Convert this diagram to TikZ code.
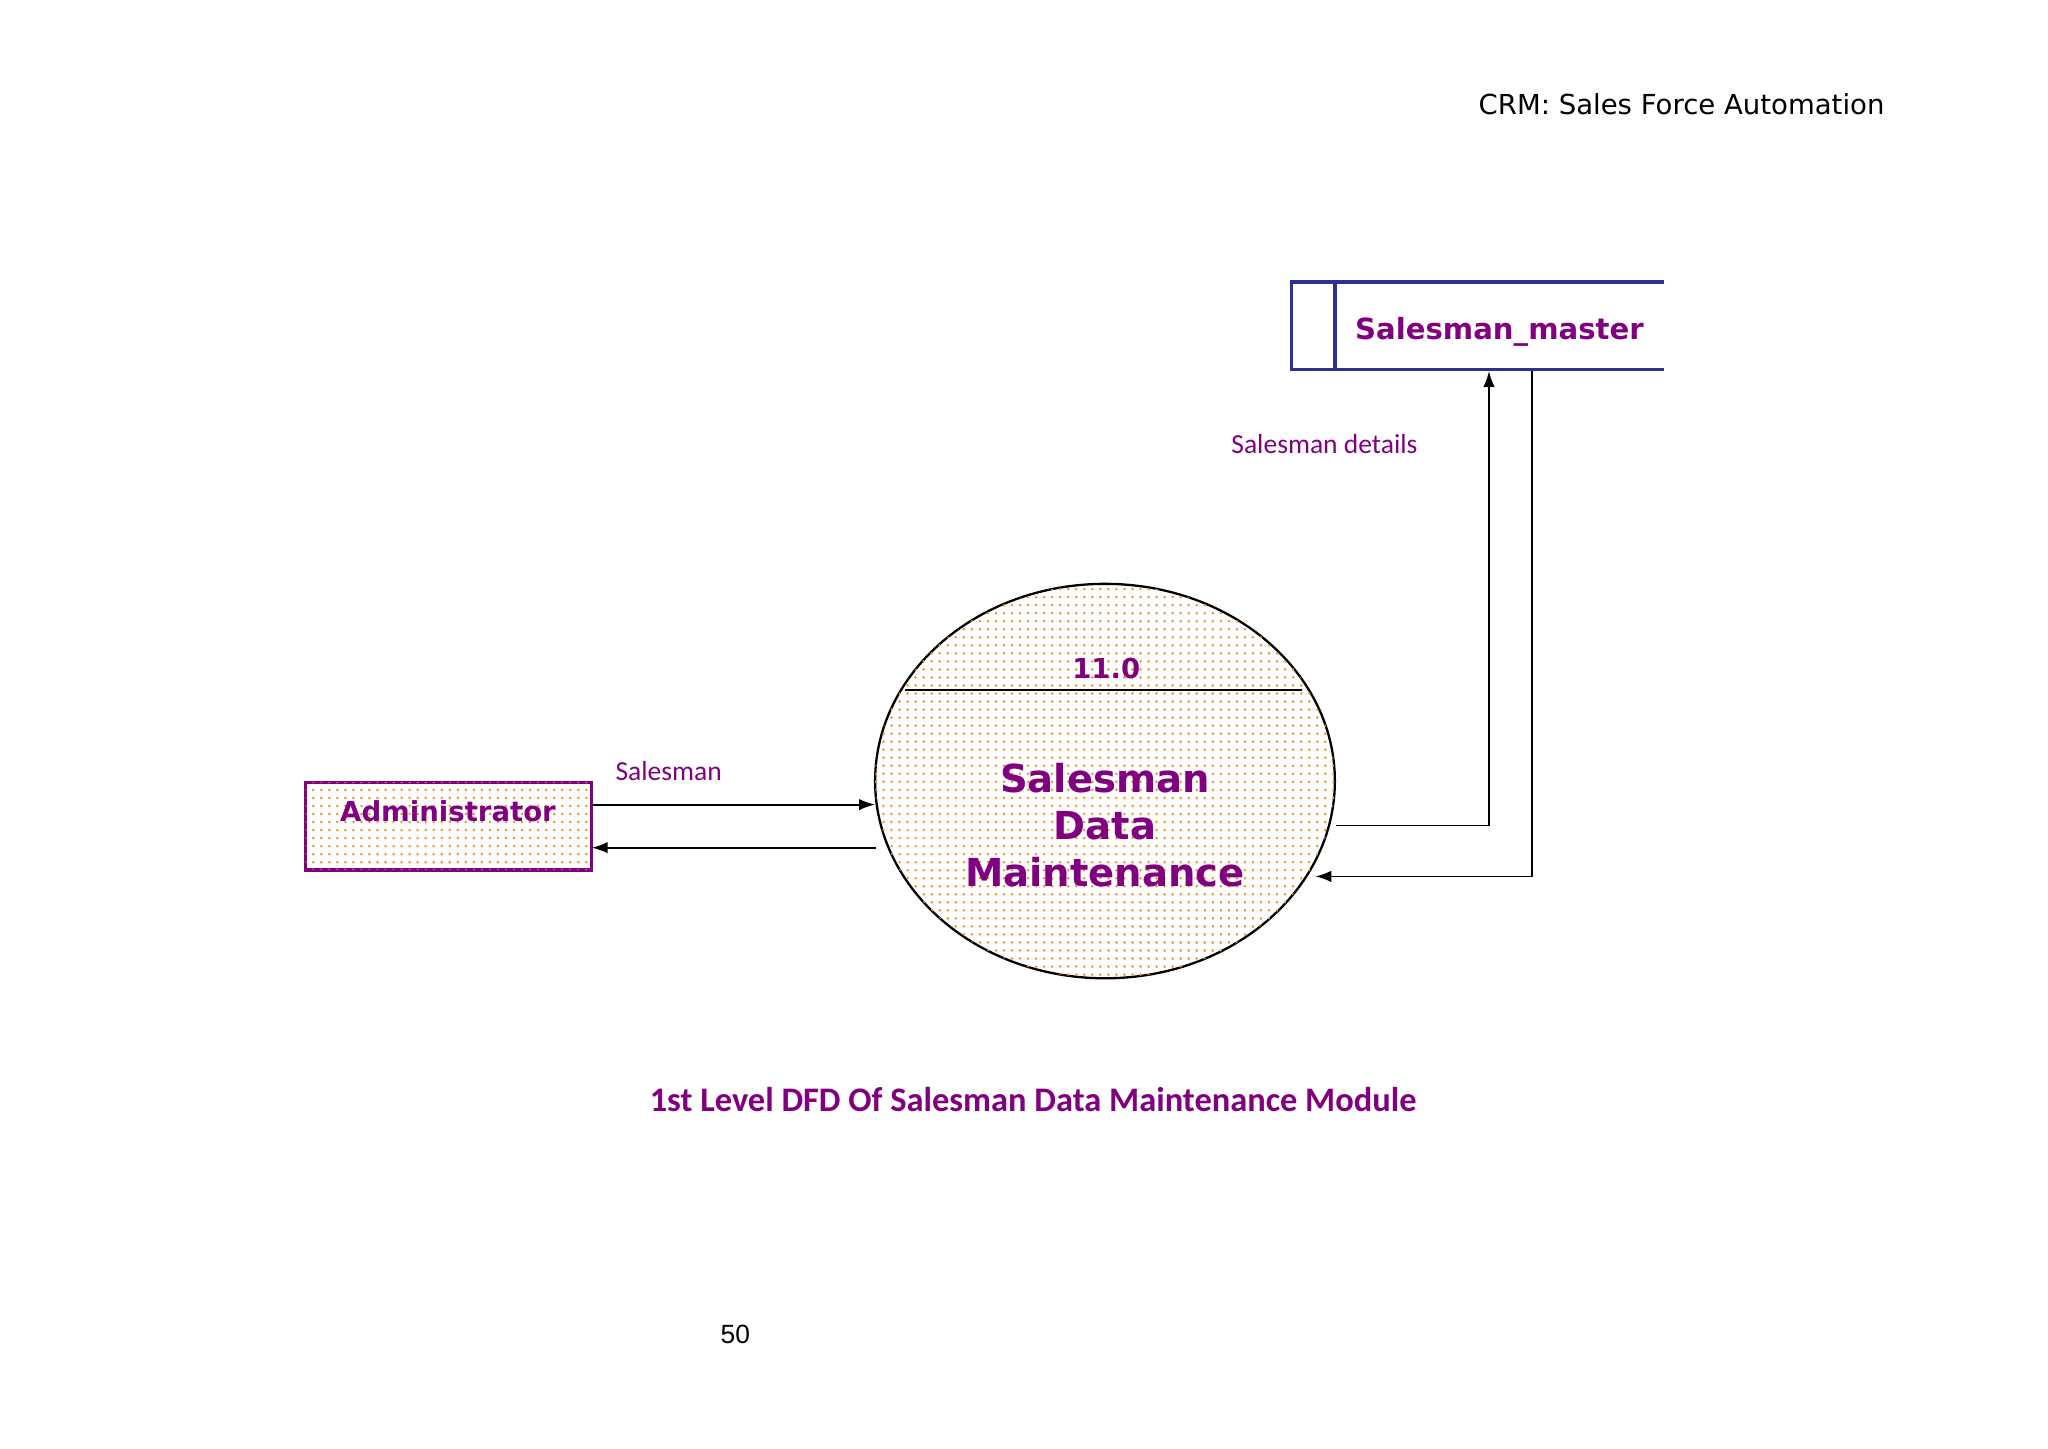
\documentclass[tikz,border=0pt]{standalone}
\usepackage{fontspec}
\setmainfont{DejaVu Sans}
\newfontfamily\carlitof{Carlito}
\newfontfamily\arsf{Liberation Sans}
\usetikzlibrary{patterns,patterns.meta,arrows.meta}
\definecolor{pur}{HTML}{800080}
\definecolor{navy}{HTML}{2E3192}
\definecolor{dotor}{HTML}{F09020}
\begin{document}
\begin{tikzpicture}[x=0.02cm,y=-0.02cm,
  flow/.style={-{Latex[length=7pt,width=5pt]},line width=0.8pt},
  dotted fill/.style={fill=white,postaction={pattern={Dots[distance=3.5pt,radius=0.6pt]},pattern color=dotor}}]
\useasboundingbox (0,0) rectangle (1568,1109);
\node[anchor=east,font=\fontsize{12}{14}\selectfont] (hdr) at (1449,80) {CRM: Sales Force Automation};
% store
\draw[navy,line width=1.5pt] (1274,216) -- (989,216) -- (989,283) -- (1274,283);
\draw[navy,line width=1.5pt] (1022,216) -- (1022,283);
\node[pur,font=\bfseries\fontsize{12.7}{15}\selectfont] (sm) at (1148,254) {Salesman\_master};
\coordinate (smA) at (1140,284);
\coordinate (smB) at (1173,284);
% process
\draw[dotted fill,line width=1pt] (846,598) ellipse [x radius=176,y radius=151];
\node (p) at (846,598) {};
\draw[line width=0.8pt] (693,528) -- (997,528);
\node[pur,font=\bfseries\fontsize{12}{14}\selectfont] (num) at (847,512) {11.0};
\node[pur,align=center,font=\bfseries\fontsize{16.8}{20.5}\selectfont] (pt) at (846,632) {Salesman\\Data\\Maintenance};
% admin
\draw[dotted fill,draw=pur,line width=1.5pt] (234,599) rectangle (453,666);
\node[pur,font=\bfseries\fontsize{12}{14}\selectfont] (adm) at (343,621) {Administrator};
% flows
\coordinate (a1) at (453,616); \coordinate (p1) at (670,616);
\coordinate (p2) at (671,649); \coordinate (a2) at (453,649);
\draw[flow] (a1) -- (p1);
\draw[flow] (p2) -- (a2);
\coordinate (p3) at (1023,632); \coordinate (p4) at (1007,671);
\draw[flow] (p3) -- (1140,632) -- (smA);
\draw[flow] (smB) -- (1173,671) -- (p4);
\node[pur,font=\carlitof\fontsize{12}{13}\selectfont] (l1) at (512,590) {Salesman};
\node[pur,font=\carlitof\fontsize{12}{13}\selectfont] (l2) at (1014,340) {Salesman details};
\node[pur,font=\carlitof\bfseries\fontsize{15}{17}\selectfont] (cap) at (791,842) {1st Level DFD Of Salesman Data Maintenance Module};
\node[font=\arsf\fontsize{11.5}{13}\selectfont] (pg) at (563,1022) {50};
\end{tikzpicture}
\end{document}
